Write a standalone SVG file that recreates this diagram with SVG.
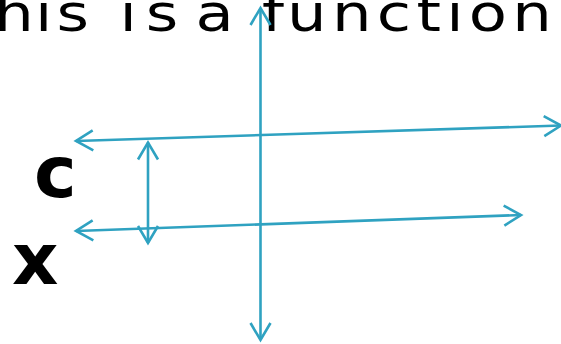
<svg xmlns="http://www.w3.org/2000/svg" width="561" height="344" viewBox="0 0 561 344">
  <style>
    .ln { stroke: #2FA2C1; stroke-width: 2.6; fill: none; marker-start: url(#chev); marker-end: url(#chev); }
    .title { font-family: "DejaVu Sans", sans-serif; font-size: 52px; fill: #000; }
    .lbl { font-family: "DejaVu Sans", sans-serif; font-size: 72px; font-weight: bold; fill: #000; }
  </style>
  <defs>
    <marker id="chev" markerUnits="userSpaceOnUse" orient="auto-start-reverse" refX="0" refY="0" markerWidth="40" markerHeight="40" viewBox="-20 -20 40 40" overflow="visible">
      <path d="M-17,-10 L0,0 L-17,10" fill="none" stroke="#2FA2C1" stroke-width="2.6" stroke-linejoin="miter"/>
    </marker>
  </defs>
  <g id="title">
    <text class="title" transform="scale(1.2,1)" y="31" x="-4.75 29.25 47.17 83.3 99.5 121.5 154.2 163 195.8 218.3 239.2 276.6 314.0 347.0 371.8 390.7 426.9">his is a function</text>
  </g>
  <g id="label-c">
    <text class="lbl" x="34" y="197">c</text>
  </g>
  <g id="label-x">
    <text class="lbl" x="12" y="284">x</text>
  </g>
  <g id="connectors">
    <line class="ln" x1="260.5" y1="8" x2="260.5" y2="340"/>
    <line class="ln" x1="76" y1="141" x2="561" y2="125.5"/>
    <line class="ln" x1="76" y1="231" x2="521" y2="215"/>
    <line class="ln" x1="148" y1="142.5" x2="148" y2="243"/>
  </g>
</svg>
